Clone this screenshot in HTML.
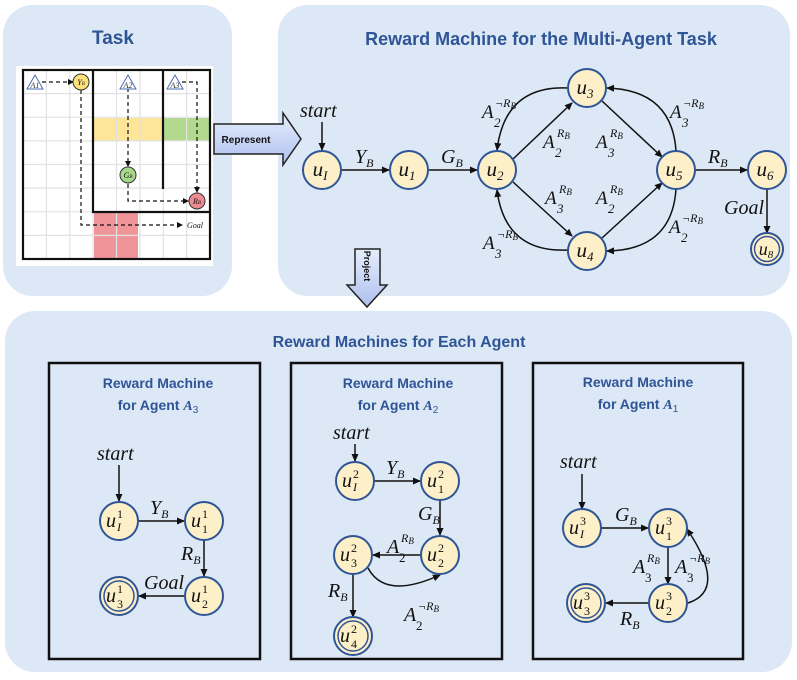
<!DOCTYPE html>
<html><head><meta charset="utf-8"><style>
body{margin:0;background:#fff}
svg{display:block}
.t{font-family:"Liberation Sans",sans-serif;font-weight:bold;fill:#2f5597}
.m{font-family:"Liberation Serif",serif;font-style:italic;fill:#111}
.n{fill:#fdf0c8;stroke:#2f5597;stroke-width:2}
.e{stroke:#111;stroke-width:1.5;fill:none;marker-end:url(#ah)}
.d{stroke:#111;stroke-width:1.2;fill:none;stroke-dasharray:4 3;marker-end:url(#ah2)}
</style></head><body>
<svg width="797" height="680" viewBox="0 0 797 680" xmlns="http://www.w3.org/2000/svg">
<defs>
<marker id="ah" markerWidth="8" markerHeight="8" refX="7" refY="4" orient="auto" markerUnits="userSpaceOnUse"><path d="M0,0.5 L8,4 L0,7.5z" fill="#111"/></marker>
<marker id="ah2" markerWidth="6" markerHeight="6" refX="5" refY="3" orient="auto" markerUnits="userSpaceOnUse"><path d="M0,0 L6,3 L0,6z" fill="#111"/></marker>
<linearGradient id="bg1" x1="0" y1="0" x2="0" y2="1"><stop offset="0" stop-color="#e6eefc"/><stop offset="1" stop-color="#aebfee"/></linearGradient>
</defs>
<!-- panels -->
<rect x="3" y="5" width="229" height="291" rx="30" fill="#dce8f5"/>
<rect x="278" y="5" width="512" height="291" rx="30" fill="#dce8f5"/>
<rect x="5" y="311" width="787" height="361" rx="30" fill="#dce8f5"/>
<text class="t" x="113" y="44" font-size="19" text-anchor="middle">Task</text>
<text class="t" x="541" y="45" font-size="18" text-anchor="middle">Reward Machine for the Multi-Agent Task</text>
<text class="t" x="399" y="347" font-size="16" text-anchor="middle">Reward Machines for Each Agent</text>

<!-- grid -->
<rect x="16" y="66" width="197" height="200" fill="#fff"/>
<rect x="93" y="118" width="70" height="23" fill="#fde59a"/>
<rect x="163" y="118" width="47" height="23" fill="#b2d98e"/>
<rect x="94" y="213" width="44" height="46" fill="#ef9499"/>
<g stroke="#e2e2e2" stroke-width="1.2">
<line x1="46.4" y1="70" x2="46.4" y2="259"/><line x1="69.8" y1="70" x2="69.8" y2="259"/><line x1="93" y1="70" x2="93" y2="259"/><line x1="116.5" y1="70" x2="116.5" y2="259"/><line x1="139.9" y1="70" x2="139.9" y2="259"/><line x1="163.3" y1="70" x2="163.3" y2="259"/><line x1="186.6" y1="70" x2="186.6" y2="259"/>
<line x1="23" y1="93.6" x2="210" y2="93.6"/><line x1="23" y1="117.2" x2="210" y2="117.2"/><line x1="23" y1="140.9" x2="210" y2="140.9"/><line x1="23" y1="164.5" x2="210" y2="164.5"/><line x1="23" y1="188.1" x2="210" y2="188.1"/><line x1="23" y1="211.8" x2="210" y2="211.8"/><line x1="23" y1="235.4" x2="210" y2="235.4"/>
</g>
<g stroke="#111" stroke-width="2.2" fill="none">
<rect x="23" y="70" width="187" height="189"/>
<polyline points="93,70 93,212 210,212"/>
<line x1="163" y1="70" x2="163" y2="189"/>
</g>
<g class="d">
<line x1="42" y1="82" x2="73" y2="82"/>
<polyline points="81,90 81,225 182,225"/>
<line x1="128" y1="88" x2="128" y2="166"/>
<polyline points="128,184 128,201 188,201"/>
<polyline points="182,82 197,82 197,192"/>
</g>
<g fill="#fff" stroke="#4a6db5" stroke-width="1"><path d="M35,75 L43,89 L27,89z"/><path d="M128,75 L136,89 L120,89z"/><path d="M175,75 L183,89 L167,89z"/></g>
<g font-family="Liberation Serif,serif" font-style="italic" font-size="8" fill="#333" text-anchor="middle"><text x="35" y="88">A1</text><text x="128" y="88">A2</text><text x="175" y="88">A3</text></g>
<circle cx="81" cy="82" r="8" fill="#fde27a" stroke="#333"/><text x="81" y="85" font-size="8" class="m" text-anchor="middle">Y<tspan font-size="5">B</tspan></text>
<circle cx="128" cy="175" r="8" fill="#a8d88a" stroke="#333"/><text x="128" y="178" font-size="8" class="m" text-anchor="middle">G<tspan font-size="5">B</tspan></text>
<circle cx="197" cy="201" r="8" fill="#ef8a90" stroke="#333"/><text x="197" y="204" font-size="8" class="m" text-anchor="middle">R<tspan font-size="5">B</tspan></text>
<text x="187" y="228" font-size="8" class="m">Goal</text>

<!-- represent arrow -->
<path d="M214,124 L283,124 L283,113 L301,139 L283,165 L283,154 L214,154z" fill="url(#bg1)" stroke="#222" stroke-width="1.5"/>
<text x="246" y="143" font-family="Liberation Sans,sans-serif" font-weight="bold" font-size="10" text-anchor="middle" fill="#111">Represent</text>
<!-- project arrow -->
<path d="M355,249 L380,249 L380,285 L387,285 L367,307 L347,285 L355,285z" fill="url(#bg1)" stroke="#222" stroke-width="1.5"/>
<text transform="translate(364,266) rotate(90)" font-family="Liberation Sans,sans-serif" font-weight="bold" font-size="9" text-anchor="middle" fill="#111">Project</text>

<!-- top machine edges -->
<g class="e">
<line x1="322" y1="122" x2="322" y2="150"/>
<line x1="341" y1="170" x2="389" y2="170"/>
<line x1="428" y1="170" x2="477" y2="170"/>
<line x1="513" y1="159" x2="572" y2="103"/>
<line x1="602" y1="101" x2="662" y2="157"/>
<line x1="513" y1="182" x2="572" y2="236"/>
<line x1="602" y1="238" x2="662" y2="183"/>
<path d="M568,88 Q505,85 497,150"/>
<path d="M676,151 Q672,90 607,88"/>
<path d="M568,250 Q505,253 497,190"/>
<path d="M676,189 Q672,250 607,251"/>
<line x1="695" y1="170" x2="747" y2="170"/>
<line x1="767" y1="189" x2="767" y2="233"/>
</g>
<g class="n">
<circle cx="322" cy="170" r="19"/><circle cx="409" cy="170" r="19"/><circle cx="497" cy="170" r="19"/><circle cx="587" cy="88" r="19"/><circle cx="587" cy="251" r="19"/><circle cx="676" cy="170" r="19"/><circle cx="767" cy="170" r="19"/><circle cx="767" cy="249" r="16"/>
</g>
<circle cx="767" cy="249" r="12.5" fill="none" stroke="#2f5597" stroke-width="1.5"/>
<g class="m" font-size="21" text-anchor="middle">
<text x="320" y="176">u<tspan font-size="13" dy="4">I</tspan></text>
<text x="407" y="176">u<tspan font-size="13" dy="4">1</tspan></text>
<text x="495" y="176">u<tspan font-size="13" dy="4">2</tspan></text>
<text x="585" y="94">u<tspan font-size="13" dy="4">3</tspan></text>
<text x="585" y="257">u<tspan font-size="13" dy="4">4</tspan></text>
<text x="674" y="176">u<tspan font-size="13" dy="4">5</tspan></text>
<text x="765" y="176">u<tspan font-size="13" dy="4">6</tspan></text>
<text x="766" y="255" font-size="18">u<tspan font-size="11" dy="3">8</tspan></text>
</g>
<g class="m" font-size="20">
<text x="300" y="117">start</text>
<text x="355" y="163">Y<tspan font-size="12" dy="4">B</tspan></text>
<text x="441" y="163">G<tspan font-size="12" dy="4">B</tspan></text>
<text x="708" y="163">R<tspan font-size="12" dy="4">B</tspan></text>
<text x="724" y="214">Goal</text>
</g>
<!-- A labels: base x,y -->
<g class="m" font-size="19">
<text x="482" y="118">A</text><text x="494" y="127" font-size="13">2</text><text x="495" y="107" font-size="12">¬R<tspan font-size="9" dy="2">B</tspan></text>
<text x="543" y="148">A</text><text x="555" y="157" font-size="13">2</text><text x="557" y="137" font-size="12">R<tspan font-size="9" dy="2">B</tspan></text>
<text x="596" y="148">A</text><text x="608" y="157" font-size="13">3</text><text x="610" y="137" font-size="12">R<tspan font-size="9" dy="2">B</tspan></text>
<text x="670" y="118">A</text><text x="682" y="127" font-size="13">3</text><text x="683" y="107" font-size="12">¬R<tspan font-size="9" dy="2">B</tspan></text>
<text x="545" y="204">A</text><text x="557" y="213" font-size="13">3</text><text x="559" y="193" font-size="12">R<tspan font-size="9" dy="2">B</tspan></text>
<text x="596" y="204">A</text><text x="608" y="213" font-size="13">2</text><text x="610" y="193" font-size="12">R<tspan font-size="9" dy="2">B</tspan></text>
<text x="483" y="249">A</text><text x="495" y="258" font-size="13">3</text><text x="497" y="238" font-size="12">¬R<tspan font-size="9" dy="2">B</tspan></text>
<text x="669" y="233">A</text><text x="681" y="242" font-size="13">2</text><text x="682" y="222" font-size="12">¬R<tspan font-size="9" dy="2">B</tspan></text>
</g>

<!-- bottom boxes -->
<g fill="#dce8f5" stroke="#111" stroke-width="2.5">
<rect x="49" y="363" width="211" height="296"/>
<rect x="291" y="363" width="211" height="296"/>
<rect x="533" y="363" width="210" height="296"/>
</g>
<g class="t" font-size="14" text-anchor="middle">
<text x="158" y="388">Reward Machine</text><text x="158" y="410">for Agent <tspan class="m" style="fill:#2f5597">A</tspan><tspan font-size="10" dy="3" font-weight="normal">3</tspan></text>
<text x="398" y="388">Reward Machine</text><text x="398" y="410">for Agent <tspan class="m" style="fill:#2f5597">A</tspan><tspan font-size="10" dy="3" font-weight="normal">2</tspan></text>
<text x="638" y="387">Reward Machine</text><text x="638" y="409">for Agent <tspan class="m" style="fill:#2f5597">A</tspan><tspan font-size="10" dy="3" font-weight="normal">1</tspan></text>
</g>
<!-- box1 -->
<g class="e">
<line x1="119" y1="465" x2="119" y2="501"/>
<line x1="138" y1="521" x2="184" y2="521"/>
<line x1="204" y1="540" x2="204" y2="576"/>
<line x1="185" y1="596" x2="139" y2="596"/>
</g>
<!-- box2 -->
<g class="e">
<line x1="355" y1="444" x2="355" y2="461"/>
<line x1="374" y1="481" x2="420" y2="481"/>
<line x1="440" y1="500" x2="440" y2="535"/>
<line x1="421" y1="555" x2="373" y2="555"/>
<path d="M368,568 Q385,600 440,575"/>
<line x1="353" y1="574" x2="353" y2="617"/>
</g>
<!-- box3 -->
<g class="e">
<line x1="582" y1="474" x2="582" y2="509"/>
<line x1="601" y1="528" x2="648" y2="528"/>
<line x1="668" y1="547" x2="668" y2="584"/>
<line x1="649" y1="603" x2="606" y2="603"/>
<path d="M688,603 Q728,590 687,529"/>
</g>
<g class="n">
<circle cx="119" cy="521" r="19"/><circle cx="204" cy="521" r="19"/><circle cx="204" cy="596" r="19"/><circle cx="119" cy="596" r="19"/>
<circle cx="355" cy="481" r="19"/><circle cx="440" cy="481" r="19"/><circle cx="440" cy="555" r="19"/><circle cx="353" cy="555" r="19"/><circle cx="353" cy="636" r="19"/>
<circle cx="582" cy="528" r="19"/><circle cx="668" cy="528" r="19"/><circle cx="668" cy="603" r="19"/><circle cx="586" cy="603" r="19"/>
</g>
<g fill="none" stroke="#2f5597" stroke-width="1.5"><circle cx="119" cy="596" r="15"/><circle cx="353" cy="636" r="15"/><circle cx="586" cy="603" r="15"/></g>
<g class="m" font-size="20">
<text x="106" y="527">u</text><text x="117" y="531" font-size="12">I</text><text x="117" y="518" font-size="12" font-style="normal">1</text>
<text x="191" y="527">u</text><text x="202" y="533" font-size="12" font-style="normal">1</text><text x="202" y="518" font-size="12" font-style="normal">1</text>
<text x="191" y="602">u</text><text x="202" y="608" font-size="12" font-style="normal">2</text><text x="202" y="593" font-size="12" font-style="normal">1</text>
<text x="106" y="602">u</text><text x="117" y="608" font-size="12" font-style="normal">3</text><text x="117" y="593" font-size="12" font-style="normal">1</text>

<text x="342" y="487">u</text><text x="353" y="491" font-size="12">I</text><text x="353" y="478" font-size="12" font-style="normal">2</text>
<text x="427" y="487">u</text><text x="438" y="493" font-size="12" font-style="normal">1</text><text x="438" y="478" font-size="12" font-style="normal">2</text>
<text x="427" y="561">u</text><text x="438" y="567" font-size="12" font-style="normal">2</text><text x="438" y="552" font-size="12" font-style="normal">2</text>
<text x="340" y="561">u</text><text x="351" y="567" font-size="12" font-style="normal">3</text><text x="351" y="552" font-size="12" font-style="normal">2</text>
<text x="340" y="642">u</text><text x="351" y="648" font-size="12" font-style="normal">4</text><text x="351" y="633" font-size="12" font-style="normal">2</text>

<text x="569" y="534">u</text><text x="580" y="538" font-size="12">I</text><text x="580" y="525" font-size="12" font-style="normal">3</text>
<text x="655" y="534">u</text><text x="666" y="540" font-size="12" font-style="normal">1</text><text x="666" y="525" font-size="12" font-style="normal">3</text>
<text x="655" y="609">u</text><text x="666" y="615" font-size="12" font-style="normal">2</text><text x="666" y="600" font-size="12" font-style="normal">3</text>
<text x="573" y="609">u</text><text x="584" y="615" font-size="12" font-style="normal">3</text><text x="584" y="600" font-size="12" font-style="normal">3</text>

<text x="97" y="460">start</text>
<text x="150" y="514">Y<tspan font-size="12" dy="4">B</tspan></text>
<text x="181" y="560">R<tspan font-size="12" dy="4">B</tspan></text>
<text x="144" y="589">Goal</text>

<text x="333" y="439">start</text>
<text x="386" y="474">Y<tspan font-size="12" dy="4">B</tspan></text>
<text x="418" y="520">G<tspan font-size="12" dy="4">B</tspan></text>
<text x="328" y="597">R<tspan font-size="12" dy="4">B</tspan></text>
<text x="387" y="553">A</text><text x="399" y="562" font-size="13" font-style="normal">2</text><text x="401" y="542" font-size="12">R<tspan font-size="9" dy="2">B</tspan></text>
<text x="404" y="621">A</text><text x="416" y="630" font-size="13" font-style="normal">2</text><text x="418" y="610" font-size="12">¬R<tspan font-size="9" dy="2">B</tspan></text>

<text x="560" y="468">start</text>
<text x="615" y="521">G<tspan font-size="12" dy="4">B</tspan></text>
<text x="633" y="573">A</text><text x="645" y="582" font-size="13" font-style="normal">3</text><text x="647" y="562" font-size="12">R<tspan font-size="9" dy="2">B</tspan></text>
<text x="675" y="573">A</text><text x="687" y="582" font-size="13" font-style="normal">3</text><text x="689" y="562" font-size="12">¬R<tspan font-size="9" dy="2">B</tspan></text>
<text x="620" y="625">R<tspan font-size="12" dy="4">B</tspan></text>
</g>
</svg>
</body></html>
